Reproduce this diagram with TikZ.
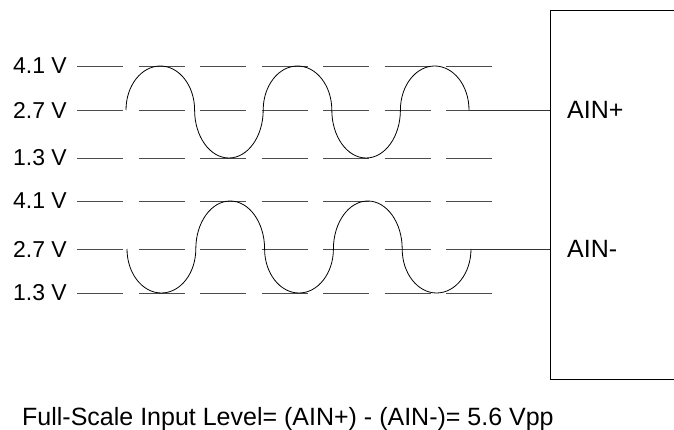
\documentclass[tikz,border=0pt]{standalone}
\usepackage{fontspec}
\setmainfont{Liberation Sans}
\begin{document}
\begin{tikzpicture}[x=1pt,y=-1pt,
  lvl/.style={draw=black!70,line width=0.9pt,dash pattern=on 46pt off 15.5pt},
  wave/.style={draw=black,line width=0.8pt},
  lab/.style={font=\fontsize{23}{23}\selectfont,anchor=east,inner sep=0pt},
  pinlabel/.style={font=\fontsize{25}{25}\selectfont,anchor=west,inner sep=0pt},
  pinline/.style={draw=black!80,line width=0.9pt},
  box/.style={draw=black,line width=1.2pt,anchor=north west,inner sep=0pt,
              minimum width=200pt,minimum height=369pt}]
\useasboundingbox (0,0) rectangle (674,430);
% converter box (open to the right)
\node[box] (adc) at (550,10) {};
% level labels
\node[lab] (pa) at (67,66)  {4.1 V};
\node[lab] (pb) at (67,110) {2.7 V};
\node[lab] (pc) at (67,158) {1.3 V};
\node[lab] (ma) at (67,201) {4.1 V};
\node[lab] (mb) at (67,249) {2.7 V};
\node[lab] (mc) at (67,293) {1.3 V};
% dashed level lines
\foreach \n in {pa,pb,pc,ma,mb,mc}
  \draw[lvl] ([xshift=10pt]\n.east) -- ++(415,0);
% AIN+ waveform
\coordinate (ps) at (126,110);
\draw[wave] (ps)
  arc[start angle=180,end angle=360,x radius=34.3,y radius=44]
  arc[start angle=180,end angle=0,x radius=34.3,y radius=48]
  arc[start angle=180,end angle=360,x radius=34.3,y radius=44]
  arc[start angle=180,end angle=0,x radius=34.3,y radius=48]
  arc[start angle=180,end angle=360,x radius=34.3,y radius=44]
  coordinate (pe);
% AIN- waveform
\coordinate (ms) at (127,249);
\draw[wave] (ms)
  arc[start angle=180,end angle=0,x radius=34.4,y radius=44]
  arc[start angle=180,end angle=360,x radius=34.4,y radius=48]
  arc[start angle=180,end angle=0,x radius=34.4,y radius=44]
  arc[start angle=180,end angle=360,x radius=34.4,y radius=48]
  arc[start angle=180,end angle=0,x radius=34.4,y radius=44]
  coordinate (me);
% pins
\node[pinlabel] (ainp) at (567,110) {AIN+};
\node[pinlabel] (ainm) at (567,249) {AIN-};
\draw[pinline] (pe) -- (pe -| adc.west);
\draw[pinline] (me) -- (me -| adc.west);
% caption
\node[font=\fontsize{25}{25}\selectfont,anchor=base west,inner sep=0pt] (fs) at (22,425)
  {Full-Scale Input Level= (AIN+) - (AIN-)= 5.6 Vpp};
\end{tikzpicture}
\end{document}
